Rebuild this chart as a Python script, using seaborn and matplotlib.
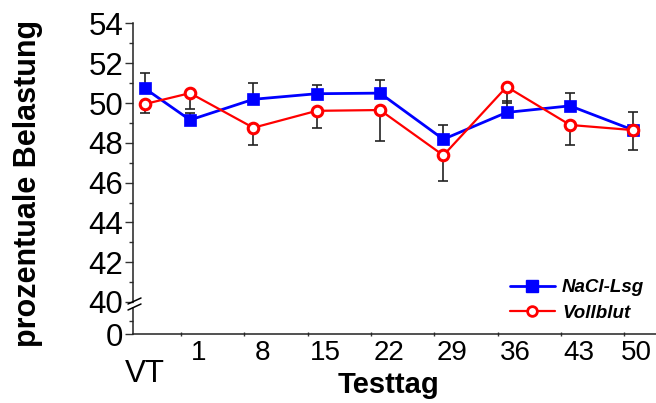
import matplotlib
matplotlib.use("Agg")
import matplotlib.pyplot as plt
from matplotlib.lines import Line2D
from matplotlib.ticker import MultipleLocator, FixedLocator
import numpy as np
import pandas as pd
import seaborn as sns

# ---- data ----
categories = ["VT", "1", "8", "15", "22", "29", "36", "43", "50"]
day_pos = [-4, 1, 8, 15, 22, 29, 36, 43, 50]
nacl = [50.74, 49.15, 50.19, 50.47, 50.50, 48.18, 49.53, 49.86, 48.64]
nacl_err = [0.78, 0.37, 0.80, 0.44, 0.67, 0.72, 0.57, 0.67, 0.92]
vollblut = [49.95, 50.50, 48.76, 49.61, 49.65, 47.37, 50.82, 48.90, 48.64]
vollblut_err = [0.44, 0.80, 0.87, 0.84, 1.56, 1.29, 0.80, 1.02, 1.02]
series_names = ["NaCl-Lsg", "Vollblut"]
y_ticks_top = [40, 42, 44, 46, 48, 50, 52, 54]

sns.set_theme(style="ticks")
plt.rcParams["font.family"] = ["Liberation Sans", "DejaVu Sans"]
plt.rcParams.update({"text.color": "black", "axes.labelcolor": "black",
                     "xtick.color": "black", "ytick.color": "black",
                     "axes.edgecolor": "#222222"})

W, H = 656, 403
fig = plt.figure(figsize=(W / 100, H / 100), dpi=100)

def fx(px):
    return px / W

def fy(py):
    return 1 - py / H

left_px, right_px = 133, 656
ax = fig.add_axes([fx(left_px), fy(302), fx(right_px - left_px), (302 - 23.5) / H])
axb = fig.add_axes([fx(left_px), fy(334), fx(right_px - left_px), (334 - 308) / H])

xlim = (-5.3, 52.5)
df = pd.DataFrame({
    "day": day_pos * 2,
    "val": nacl + vollblut,
    "series": [series_names[0]] * len(day_pos) + [series_names[1]] * len(day_pos),
})

# error bars (one-sided: NaCl up, Vollblut down)
ax.errorbar(day_pos, nacl, yerr=[np.zeros(len(nacl)), nacl_err], fmt="none",
            ecolor="#222222", elinewidth=1.2, capsize=3.5, capthick=1.2, zorder=1)
ax.errorbar(day_pos, vollblut, yerr=[vollblut_err, np.zeros(len(vollblut))], fmt="none",
            ecolor="#222222", elinewidth=1.2, capsize=3.5, capthick=1.2, zorder=1)

sns.lineplot(data=df[df.series == series_names[0]], x="day", y="val", ax=ax,
             color="#0000FF", linewidth=2.0, marker="s", markersize=8.5,
             markeredgecolor="#0000FF", markeredgewidth=0.5, zorder=3,
             label=series_names[0], legend=False)
sns.lineplot(data=df[df.series == series_names[1]], x="day", y="val", ax=ax,
             color="#FF0000", linewidth=1.6, marker="o", markersize=7.6,
             markerfacecolor="white", markeredgecolor="#FF0000", markeredgewidth=2.2,
             zorder=4, label=series_names[1], legend=False)

# top axes styling
ax.set_xlim(*xlim)
ax.set_ylim(40, 54)
ax.set_yticks(y_ticks_top)
ax.yaxis.set_minor_locator(MultipleLocator(1))
ax.tick_params(axis="y", which="major", length=6, width=1, labelsize=22.5, pad=1, color="#333333")
ax.tick_params(axis="y", which="minor", length=3, width=1, color="#333333")
ax.set_xticks([])
for s in ["top", "right", "bottom"]:
    ax.spines[s].set_visible(False)
ax.spines["left"].set_linewidth(1.1)
ax.set_xlabel("")
ax.set_ylabel("")

# bottom axes
axb.set_xlim(*xlim)
axb.set_ylim(0, 2)
axb.set_yticks([0])
axb.yaxis.set_minor_locator(FixedLocator([1]))
axb.tick_params(axis="y", which="major", length=6, width=1, labelsize=22.5, pad=1, color="#333333")
axb.tick_params(axis="y", which="minor", length=3, width=1, color="#333333")
for s in ["top", "right"]:
    axb.spines[s].set_visible(False)
axb.spines["left"].set_linewidth(1.1)
axb.spines["bottom"].set_linewidth(1.1)
axb.patch.set_alpha(0)

# x ticks: marks between days, labels near each test day
mark_pos = [d - 1 for d in day_pos[1:]]
label_offsets = [0, 1, 1, 1, 1, 1, 1, 1, 0.3]
label_pos = [d + o for d, o in zip(day_pos, label_offsets)]
axb.xaxis.set_major_locator(FixedLocator(mark_pos))
axb.xaxis.set_major_formatter(plt.NullFormatter())
axb.tick_params(axis="x", which="major", length=3, width=1, direction="inout", color="#333333")
axb.xaxis.set_minor_locator(FixedLocator(label_pos))
axb.set_xticklabels(categories, minor=True)
axb.tick_params(axis="x", which="minor", length=0, labelsize=20, pad=4)
mt = axb.xaxis.get_minor_ticks()
mt[0].set_pad(18)
mt[0].label1.set_fontsize(22.5)

axb.set_xlabel("")
axb.set_ylabel("")
fig.text(fx(388), fy(385), "Testtag", fontsize=21, fontweight="bold",
         ha="center", va="center")
fig.text(fx(28), fy(183), "prozentuale Belastung", rotation=90, fontsize=22,
         fontweight="bold", ha="center", va="center")

# break marks
for yb in (301, 307):
    fig.add_artist(Line2D([fx(128), fx(141)], [fy(yb + 3), fy(yb - 3)],
                          color="black", linewidth=1.1))

# legend
handles = [
    Line2D([], [], color="#0000FF", linewidth=2.0, marker="s", markersize=8,
           markeredgecolor="#0000FF"),
    Line2D([], [], color="#FF0000", linewidth=1.6, marker="o", markersize=7,
           markerfacecolor="white", markeredgecolor="#FF0000", markeredgewidth=2),
]
leg = fig.legend(handles, series_names, loc="center", bbox_to_anchor=(fx(577), fy(300.5)),
                 frameon=False, handlelength=2.4, handletextpad=0.4, labelspacing=0.45,
                 prop={"size": 13.5, "weight": "bold", "style": "italic"})

fig.savefig("out.png", dpi=100)
